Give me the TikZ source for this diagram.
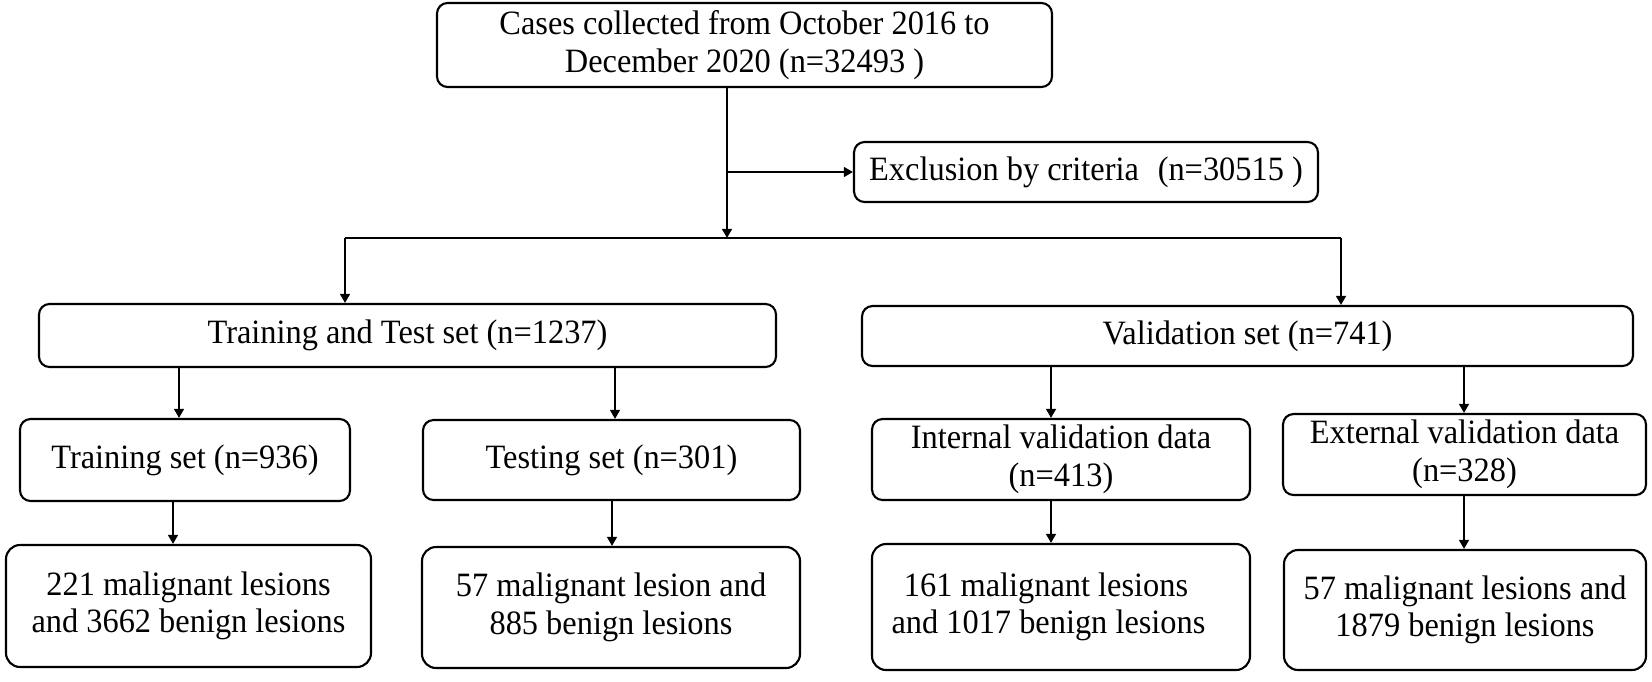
\documentclass[tikz,border=0pt]{standalone}
\usepackage{fontspec}
\setmainfont{Liberation Serif}[FakeStretch=0.95]
\usetikzlibrary{arrows.meta}
\usetikzlibrary{calc}

\begin{document}
\begin{tikzpicture}[
    box/.style={draw, rounded corners=3pt, line width=0.6pt, align=center, inner sep=0pt,
      font=\fontsize{9.7}{10.7}\selectfont},
    resbox/.style={box, rounded corners=4pt},
    arr/.style={line width=0.6pt, -{Triangle[length=2.6pt,width=2.8pt]}}
  ]

      % Frame
      \useasboundingbox (0,0) rectangle (16.52,-6.81);

      % Top boxes
      \node[box, minimum width=6.15cm, minimum height=0.84cm] (cases) at (7.445,-0.45)
        {Cases collected from October 2016 to\\December 2020 (n=32493 )};
      \node[box, minimum width=4.64cm, minimum height=0.60cm] (excl) at (10.86,-1.72)
        {Exclusion by criteria\hspace{0.55em}(n=30515 )};

      % Sets
      \node[box, minimum width=7.37cm, minimum height=0.63cm] (trte) at (4.075,-3.355)
        {Training and Test set (n=1237)};
      \node[box, minimum width=7.71cm, minimum height=0.60cm] (valid) at (12.475,-3.36)
        {Validation set (n=741)};

      % Subsets
      \node[box, minimum width=3.30cm, minimum height=0.82cm] (train) at (1.85,-4.60)
        {Training set (n=936)};
      \node[box, minimum width=3.77cm, minimum height=0.80cm] (test) at (6.115,-4.60)
        {Testing set (n=301)};
      \node[box, minimum width=3.78cm, minimum height=0.81cm] (intval) at (10.61,-4.595)
        {Internal validation data\\(n=413)};
      \node[box, minimum width=3.63cm, minimum height=0.81cm] (extval) at (14.645,-4.545)
        {External validation data\\(n=328)};

      % Lesions
      \node[resbox, minimum width=3.65cm, minimum height=1.22cm] (res1) at (1.885,-6.06)
        {221 malignant lesions\\and 3662 benign lesions};
      \node[resbox, minimum width=3.78cm, minimum height=1.21cm] (res2) at (6.11,-6.075)
        {57 malignant lesion and\\885 benign lesions};
      \node[resbox, minimum width=3.78cm, minimum height=1.26cm] (res3) at (10.61,-6.07)
        {161 malignant lesions\hspace*{0.3cm}\\and 1017 benign lesions\hspace*{0.25cm}};
      \node[resbox, minimum width=3.62cm, minimum height=1.20cm] (res4) at (14.65,-6.10)
        {57 malignant lesions and\\1879 benign lesions};

      % Split
      \coordinate (split) at (7.27,-1.72);
      \coordinate (hl) at (7.27,-2.38);
      \coordinate (hlL) at (3.45,-2.38);
      \coordinate (hlR) at (13.41,-2.38);
      \draw[arr] (cases.south -| split) -- (hl);
      \draw[arr] (split) -- (excl.west);
      \draw[line width=0.6pt] (hlL) -- (hlR);
      \draw[arr] (hlL) -- (hlL |- trte.north);
      \draw[arr] (hlR) -- (hlR |- valid.north);

      % Down arrows
      \foreach \x/\a/\b in {1.79/trte/train, 6.15/trte/test, 10.51/valid/intval, 14.64/valid/extval,
                            1.73/train/res1, 6.12/test/res2, 10.51/intval/res3, 14.64/extval/res4}
      {
        \coordinate (A) at (\x,0);
        \draw[arr] (A |- \a.south) -- (A |- \b.north);
      }
  \end{tikzpicture}
\end{document}
